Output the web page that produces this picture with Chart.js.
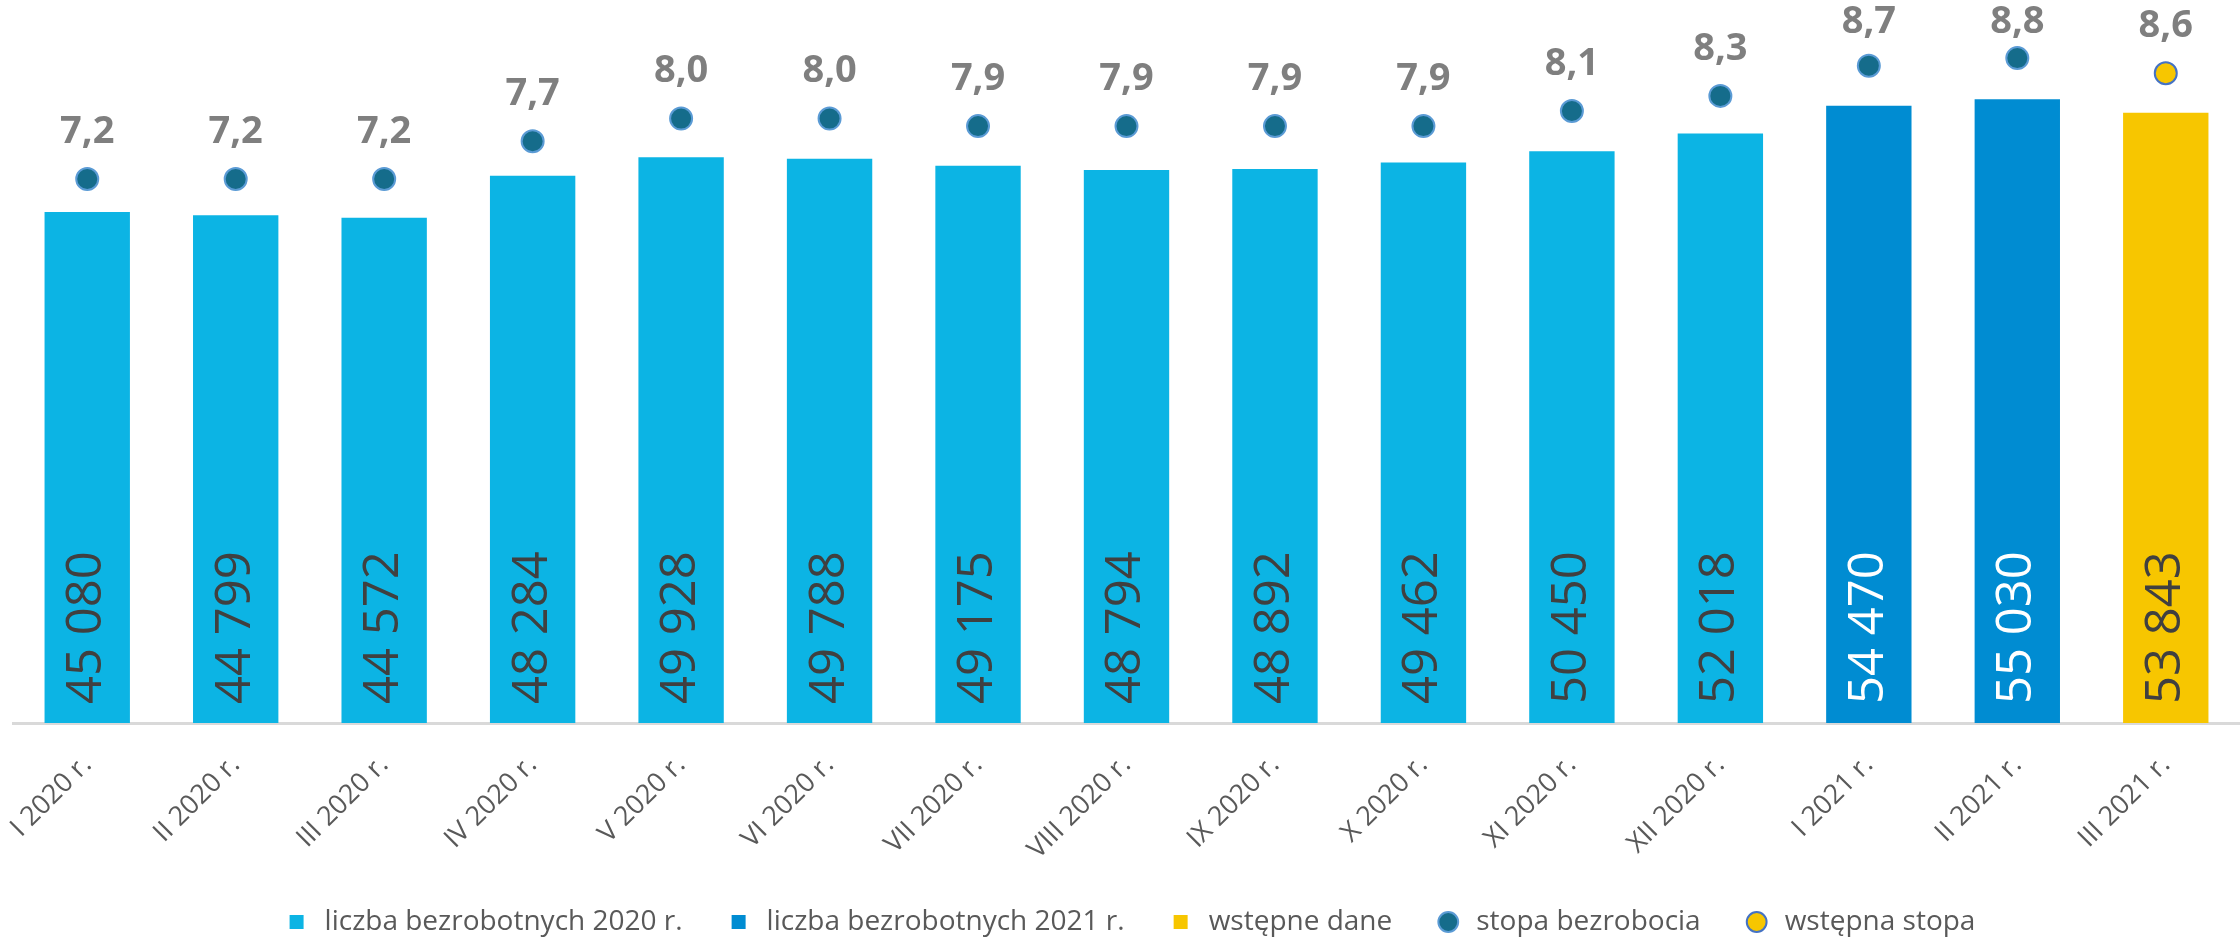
<!DOCTYPE html>
<html lang="pl">
<head>
<meta charset="utf-8">
<title>Bezrobocie</title>
<script src="https://cdn.jsdelivr.net/npm/chart.js@4/dist/chart.umd.min.js"></script>
<style>
  html, body { margin: 0; padding: 0; background: #fff; overflow: hidden; }
  #wrap { position: relative; width: 2240px; height: 943px; }
  #chart { display: block; }
</style>
</head>
<body>
<div id="wrap"><canvas id="chart"></canvas></div>
<script>
// dane
const months = ['I 2020 r.', 'II 2020 r.', 'III 2020 r.', 'IV 2020 r.', 'V 2020 r.', 'VI 2020 r.',
  'VII 2020 r.', 'VIII 2020 r.', 'IX 2020 r.', 'X 2020 r.', 'XI 2020 r.', 'XII 2020 r.',
  'I 2021 r.', 'II 2021 r.', 'III 2021 r.'];
const unemployed2020 = [45080, 44799, 44572, 48284, 49928, 49788, 49175, 48794, 48892, 49462, 50450, 52018, null, null, null];
const unemployed2021 = [null, null, null, null, null, null, null, null, null, null, null, null, 54470, 55030, null];
const preliminary = [null, null, null, null, null, null, null, null, null, null, null, null, null, null, 53843];
const rate = [7.2, 7.2, 7.2, 7.7, 8.0, 8.0, 7.9, 7.9, 7.9, 7.9, 8.1, 8.3, 8.7, 8.8, null];
const preliminaryRate = [null, null, null, null, null, null, null, null, null, null, null, null, null, null, 8.6];

const FONT = "'Open Sans', 'Noto Sans', sans-serif";

// etykiety wartości
const valueLabels = {
    id: 'valueLabels',
    afterDatasetsDraw(chart) {
        const ctx = chart.ctx;
        chart.data.datasets.forEach((ds, i) => {
            const meta = chart.getDatasetMeta(i);
            meta.data.forEach((el, j) => {
                const v = ds.data[j];
                if (v == null) return;
                ctx.save();
                if (ds.type === 'bar') {
                    ctx.translate(el.x, el.base - 19);
                    ctx.rotate(-Math.PI / 2);
                    ctx.font = `49px ${FONT}`;
                    ctx.fillStyle = ds.labelColor;
                    ctx.textAlign = 'left';
                    ctx.textBaseline = 'middle';
                    ctx.fillText(v.toLocaleString('pl-PL').replace(/\s/g, ' '), 0, 0);
                } else {
                    ctx.font = `bold 38px ${FONT}`;
                    ctx.fillStyle = '#7f7f7f';
                    ctx.textAlign = 'center';
                    ctx.textBaseline = 'middle';
                    ctx.fillText(v.toFixed(1).replace('.', ','), el.x, Math.max(el.y - 47, 22));
                }
                ctx.restore();
            });
        });
    }
};

new Chart(document.getElementById('chart'), {
    data: {
        labels: months,
        datasets: [
            {
                type: 'line', label: 'stopa bezrobocia', data: rate, yAxisID: 'y1',
                showLine: false, pointStyle: 'circle', pointRadius: 11, pointHoverRadius: 11,
                backgroundColor: '#156c8b', borderColor: '#5b9bd5', borderWidth: 2, order: 0
            },
            {
                type: 'line', label: 'wstępna stopa', data: preliminaryRate, yAxisID: 'y1',
                showLine: false, pointStyle: 'circle', pointRadius: 11, pointHoverRadius: 11,
                backgroundColor: '#f7c600', borderColor: '#4472c4', borderWidth: 2, order: 0
            },
            {
                type: 'bar', label: 'liczba bezrobotnych 2020 r.', data: unemployed2020,
                backgroundColor: '#0cb4e4', labelColor: '#404040', pointStyle: 'rect', order: 1
            },
            {
                type: 'bar', label: 'liczba bezrobotnych 2021 r.', data: unemployed2021,
                backgroundColor: '#008cd2', labelColor: '#ffffff', pointStyle: 'rect', order: 1
            },
            {
                type: 'bar', label: 'wstępne dane', data: preliminary,
                backgroundColor: '#f7c600', labelColor: '#404040', pointStyle: 'rect', order: 1
            }
        ]
    },
    options: {
        responsive: true,
        maintainAspectRatio: false,
        animation: false,
        layout: { autoPadding: false, padding: { top: 43, left: 13, right: -5, bottom: -3 } },
        datasets: {
            bar: { grouped: false, barPercentage: 0.575, categoryPercentage: 1 }
        },
        plugins: {
            tooltip: { enabled: false },
            legend: {
                position: 'bottom',
                labels: {
                    usePointStyle: true,
                    boxHeight: 14,
                    padding: 42,
                    color: '#595959',
                    font: { family: FONT, size: 28 },
                    sort: (a, b) => {
                        const order = [2, 3, 4, 0, 1];
                        return order.indexOf(a.datasetIndex) - order.indexOf(b.datasetIndex);
                    }
                }
            }
        },
        scales: {
            x: {
                grid: { display: false },
                border: { display: true, color: '#d9d9d9', width: 3 },
                ticks: {
                    color: '#595959',
                    font: { family: FONT, size: 27 },
                    minRotation: 45, maxRotation: 45,
                    padding: 18
                },
                afterFit: (scale) => {
                    scale.height = 143;
                    scale.paddingLeft = 0;
                    scale.paddingRight = 0;
                }
            },
            y: { display: false, min: 0, max: 60000 },
            y1: { display: false, min: 0, max: 9 }
        }
    },
    plugins: [valueLabels]
});
</script>
</body>
</html>
